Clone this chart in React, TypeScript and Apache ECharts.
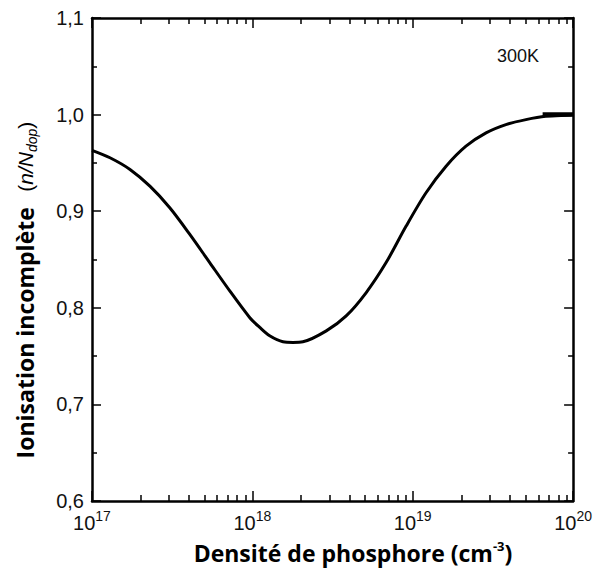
import React, { useEffect, useRef } from "react";
import * as echarts from "echarts";

// log10 of phosphorus density (cm^-3)
const logDensity = [17.0, 17.112, 17.237, 17.361, 17.485, 17.61, 17.734, 17.859, 17.983, 18.046, 18.108, 18.191, 18.253, 18.315, 18.461, 18.585, 18.71, 18.834, 18.959, 19.083, 19.208, 19.332, 19.457, 19.581, 19.706, 19.83, 19.986, 20.0];
// incomplete ionisation n/N_dop
const ionisation = [0.963, 0.9553, 0.9432, 0.9259, 0.9036, 0.876, 0.8468, 0.8175, 0.79, 0.7797, 0.771, 0.7648, 0.7642, 0.7648, 0.7761, 0.7916, 0.8158, 0.8468, 0.8846, 0.9191, 0.9466, 0.9673, 0.9811, 0.9897, 0.9948, 0.9982, 0.9995, 1.0];
// short thick mark at the right edge
const markX = [19.81, 20.0];
const markY = [1.0, 1.0];

const minorX: number[] = [];
for (let d = 17; d < 20; d++) {
  for (let k = 2; k <= 9; k++) minorX.push(d + Math.log10(k));
}

const FONT = "Liberation Sans, Arial, sans-serif";
const BOLD = "Open Sans, Noto Sans, sans-serif";

export default function App() {
  const ref = useRef<HTMLDivElement>(null);
  useEffect(() => {
    if (!ref.current) return;
    const chart = echarts.init(ref.current, undefined, { renderer: "svg" });
    const grid = { left: 92, right: 21, top: 18, bottom: 69 };
    const lineStyle = { color: "#000", width: 2.5 };
    const tickStyle = { color: "#000", width: 1.5 };
    const xLabel = {
      show: true,
      margin: 8,
      formatter: (v: number) => `{b|10}{s|${Math.round(v)}}`,
      rich: {
        b: { fontFamily: FONT, fontSize: 20, color: "#111", lineHeight: 28 },
        s: { fontFamily: FONT, fontSize: 14, color: "#111", lineHeight: 14, verticalAlign: "top" },
      },
    };
    const option: any = {
      animation: false,
      backgroundColor: "#fff",
      grid: [grid, grid],
      xAxis: [
        {
          type: "value", gridIndex: 0, position: "bottom", min: 17, max: 20, interval: 1,
          axisLine: { show: true, lineStyle, onZero: false },
          axisTick: { show: true, inside: true, length: 10, lineStyle: tickStyle },
          axisLabel: xLabel,
          splitLine: { show: false },
        },
        {
          type: "value", gridIndex: 0, position: "top", min: 17, max: 20, interval: 1,
          axisLine: { show: true, lineStyle, onZero: false },
          axisTick: { show: true, inside: true, length: 10, lineStyle: tickStyle },
          axisLabel: { show: false },
          splitLine: { show: false },
        },
        {
          type: "value", gridIndex: 1, position: "bottom", min: 17, max: 20,
          axisLine: { show: false, onZero: false },
          axisTick: { show: true, inside: true, length: 6, customValues: minorX, lineStyle: tickStyle },
          axisLabel: { show: false },
          splitLine: { show: false },
        },
        {
          type: "value", gridIndex: 1, position: "top", min: 17, max: 20,
          axisLine: { show: false, onZero: false },
          axisTick: { show: true, inside: true, length: 6, customValues: minorX, lineStyle: tickStyle },
          axisLabel: { show: false },
          splitLine: { show: false },
        },
      ],
      yAxis: [
        {
          type: "value", gridIndex: 0, position: "left", min: 0.6, max: 1.1, interval: 0.1,
          axisLine: { show: true, lineStyle, onZero: false },
          axisTick: { show: true, inside: true, length: 9, lineStyle: tickStyle },
          minorTick: { show: true, splitNumber: 2, length: 5, lineStyle: tickStyle },
          axisLabel: {
            show: true, margin: 8, fontFamily: FONT, fontSize: 20, color: "#111",
            formatter: (v: number) => v.toFixed(1).replace(".", ","),
          },
          splitLine: { show: false },
        },
        {
          type: "value", gridIndex: 0, position: "right", min: 0.6, max: 1.1, interval: 0.1,
          axisLine: { show: true, lineStyle, onZero: false },
          axisTick: { show: true, inside: true, length: 9, lineStyle: tickStyle },
          minorTick: { show: true, splitNumber: 2, length: 5, lineStyle: tickStyle },
          axisLabel: { show: false },
          splitLine: { show: false },
        },
        {
          type: "value", gridIndex: 1, min: 0.6, max: 1.1, show: false,
        },
      ],
      series: [
        {
          type: "line", xAxisIndex: 0, yAxisIndex: 0,
          data: logDensity.map((x, i) => [x, ionisation[i]]),
          smooth: 0.3, showSymbol: false, symbol: "none",
          lineStyle: { color: "#000", width: 3 },
        },
        {
          type: "line", xAxisIndex: 0, yAxisIndex: 0,
          data: markX.map((x, i) => [x, markY[i]]),
          showSymbol: false, symbol: "none",
          lineStyle: { color: "#000", width: 4.5 },
        },
      ],
      graphic: [
        {
          type: "text", x: 518, y: 56,
          style: { text: "300K", font: `18px ${FONT}`, fill: "#111", align: "center", verticalAlign: "middle" },
        },
        {
          type: "text", x: 353, y: 553,
          style: {
            text: "{t|Densité de phosphore (cm}{s|-3}{t|)}",
            align: "center", verticalAlign: "middle",
            rich: {
              t: { fontFamily: BOLD, fontWeight: "bold", fontSize: 23, fill: "#000", lineHeight: 28 },
              s: { fontFamily: BOLD, fontWeight: "bold", fontSize: 13, fill: "#000", lineHeight: 13, verticalAlign: "top" },
            },
          } as any,
        },
        {
          type: "text", x: 25, y: 290, rotation: Math.PI / 2,
          style: {
            text: "{t|Ionisation incomplète}{g|    }{p|(}{i|n/N}{d|dop}{p|)}",
            align: "center", verticalAlign: "middle",
            rich: {
              t: { fontFamily: BOLD, fontWeight: "bold", fontSize: 23, fill: "#000", lineHeight: 28 },
              g: { fontFamily: FONT, fontSize: 14, fill: "#000", lineHeight: 28 },
              p: { fontFamily: FONT, fontSize: 21, fill: "#000", lineHeight: 28 },
              i: { fontFamily: FONT, fontSize: 21, fontStyle: "italic", fill: "#000", lineHeight: 28 },
              d: { fontFamily: FONT, fontSize: 14, fontStyle: "italic", fill: "#000", lineHeight: 14, verticalAlign: "bottom" },
            },
          } as any,
        },
      ],
    };
    chart.setOption(option);
    return () => chart.dispose();
  }, []);
  return (
    <div
      ref={ref}
      style={{ position: "fixed", left: 0, top: 0, width: 595, height: 570, background: "#fff" }}
    />
  );
}
